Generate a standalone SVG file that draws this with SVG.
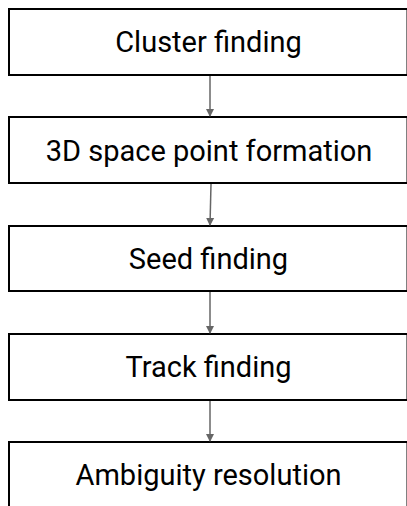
<svg xmlns="http://www.w3.org/2000/svg" width="407" height="506" viewBox="0 0 407 506">
  <style>
    .box { fill: #ffffff; stroke: #000000; stroke-width: 2; }
    .label { font-family: Roboto, "Liberation Sans", sans-serif; font-size: 29px; fill: #000000; text-anchor: middle; }
    .edge { stroke: #666666; stroke-width: 1.5; fill: none; }
  </style>
  <defs>
    <marker id="arrowhead" markerWidth="8" markerHeight="10" refX="7" refY="4" orient="auto" markerUnits="userSpaceOnUse" viewBox="0 0 8 8">
      <path d="M0,0 L8,4 L0,8 Z" fill="#666666"/>
    </marker>
  </defs>
  <rect width="407" height="506" fill="#ffffff"/>

  <g id="cluster-finding">
    <rect class="box" x="9" y="9" width="398.5" height="66"/>
    <text class="label" x="208.5" y="52">Cluster finding</text>
  </g>
  <g id="space-point-formation">
    <rect class="box" x="9" y="117" width="398.5" height="66"/>
    <text class="label" x="209" y="161">3D space point formation</text>
  </g>
  <g id="seed-finding">
    <rect class="box" x="9" y="226" width="398.5" height="65"/>
    <text class="label" x="208.5" y="269">Seed finding</text>
  </g>
  <g id="track-finding">
    <rect class="box" x="9" y="334" width="398.5" height="66"/>
    <text class="label" x="208.5" y="377">Track finding</text>
  </g>
  <g id="ambiguity-resolution">
    <rect class="box" x="9" y="442" width="398.5" height="80"/>
    <text class="label" x="208.5" y="485">Ambiguity resolution</text>
  </g>

  <g id="connectors">
    <line class="edge" x1="210" y1="76" x2="210" y2="116" marker-end="url(#arrowhead)"/>
    <line class="edge" x1="211" y1="184" x2="210" y2="225" marker-end="url(#arrowhead)"/>
    <line class="edge" x1="210" y1="292" x2="210" y2="333" marker-end="url(#arrowhead)"/>
    <line class="edge" x1="210" y1="401" x2="210" y2="441" marker-end="url(#arrowhead)"/>
  </g>
</svg>
